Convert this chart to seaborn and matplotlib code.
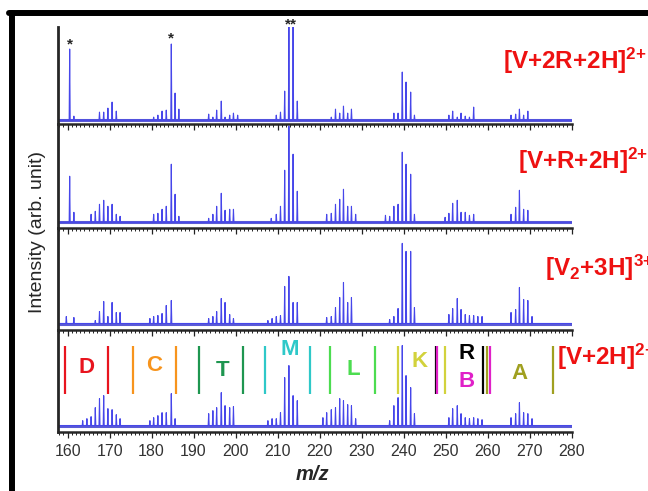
import numpy as np
import pandas as pd
import matplotlib
matplotlib.use('Agg')
import matplotlib.pyplot as plt
import seaborn as sns
from matplotlib.ticker import MultipleLocator
from matplotlib.lines import Line2D

# peak lists (m/z, height above baseline)
p1_mz = [160.5, 161.5, 167.6, 168.6, 169.6, 170.6, 171.6, 180.5, 181.5, 182.5, 183.5, 184.7, 185.6, 186.5,
         193.6, 194.6, 195.5, 196.6, 197.5, 198.6, 199.5, 200.5, 209.7, 210.7, 211.7, 212.7, 213.7, 214.7,
         222.8, 223.8, 224.8, 225.7, 226.7, 227.6, 237.7, 238.7, 239.7, 240.6, 241.7, 242.6,
         250.8, 251.7, 252.8, 253.7, 254.7, 255.7, 256.7, 265.6, 266.7, 267.6, 268.6, 269.6]
p1_h = [71, 4, 8, 8, 12, 18, 9, 3, 5, 9, 10, 76, 27, 11,
        6, 3, 10, 19, 3, 5, 7, 5, 5, 8, 29, 95, 95, 19,
        3, 11, 7, 14, 7, 11, 7, 7, 48, 38, 28, 5,
        5, 9, 3, 7, 4, 3, 13, 5, 6, 11, 5, 9]

p2_mz = [160.5, 161.5, 165.6, 166.6, 167.6, 168.6, 169.6, 170.6, 171.6, 172.5, 180.5, 181.5, 182.5, 183.5,
         184.7, 185.6, 186.5, 193.6, 194.6, 195.5, 196.6, 197.5, 198.6, 199.5, 208.5, 209.7, 210.7, 211.7,
         212.7, 213.7, 214.7, 221.7, 222.8, 223.8, 224.8, 225.7, 226.7, 227.6, 228.6, 235.7, 236.7, 237.7,
         238.7, 239.7, 240.6, 241.7, 242.6, 249.9, 250.8, 251.7, 252.8, 253.7, 254.7, 255.7, 256.7,
         265.6, 266.7, 267.6, 268.6, 269.6]
p2_h = [46, 10, 8, 11, 18, 22, 16, 18, 8, 6, 8, 9, 13, 16,
        58, 28, 6, 4, 8, 16, 29, 12, 13, 13, 4, 8, 16, 52,
        96, 68, 31, 8, 9, 18, 23, 33, 16, 16, 8, 7, 6, 16,
        18, 70, 58, 48, 8, 5, 9, 19, 22, 10, 10, 7, 8,
        8, 15, 32, 13, 12]

p3_mz = [159.7, 161.5, 166.6, 167.6, 168.6, 169.6, 170.6, 171.6, 172.5, 179.6, 180.5, 181.5, 182.5, 183.5,
         184.7, 193.6, 194.6, 195.5, 196.6, 197.5, 198.6, 199.5, 207.7, 208.7, 209.7, 210.7, 211.7, 212.7,
         213.7, 214.7, 221.7, 222.8, 223.8, 224.8, 225.7, 226.7, 227.6, 236.7, 237.7, 238.7, 239.7, 240.6,
         241.7, 242.6, 250.8, 251.7, 252.8, 253.7, 254.7, 255.7, 256.7, 257.7, 258.7,
         265.6, 266.7, 267.6, 268.6, 269.6, 270.6]
p3_h = [7, 6, 3, 12, 22, 7, 21, 11, 11, 5, 7, 8, 10, 18,
        23, 5, 7, 12, 25, 21, 9, 5, 3, 5, 7, 8, 37, 47,
        21, 21, 6, 7, 16, 26, 41, 21, 26, 4, 7, 15, 80, 72,
        72, 16, 9, 15, 25, 14, 9, 8, 8, 7, 7,
        11, 14, 36, 24, 23, 7]

p4_mz = [163.6, 164.6, 165.6, 166.6, 167.6, 168.6, 169.6, 170.6, 171.6, 172.5, 179.6, 180.5, 181.5, 182.5,
         183.5, 184.7, 185.6, 193.6, 194.6, 195.5, 196.6, 197.5, 198.6, 199.5, 207.7, 208.7, 209.7, 210.7,
         211.7, 212.7, 213.7, 214.7, 220.8, 221.7, 222.8, 223.8, 224.8, 225.7, 226.7, 227.6, 228.6,
         236.7, 237.7, 238.7, 239.7, 240.6, 241.7, 242.6, 250.8, 251.7, 252.8, 253.7, 254.7, 255.7,
         256.7, 257.7, 258.7, 265.6, 266.7, 267.6, 268.6, 269.6, 270.6]
p4_h = [5, 7, 9, 18, 27, 30, 17, 16, 11, 7, 5, 8, 10, 13,
        13, 32, 7, 12, 15, 18, 33, 20, 18, 19, 5, 7, 7, 13,
        48, 60, 30, 25, 8, 13, 16, 18, 27, 25, 21, 20, 7,
        5, 20, 28, 80, 50, 38, 12, 8, 17, 20, 12, 8, 7,
        8, 7, 6, 8, 12, 23, 13, 12, 7]

panel_names = [r'$\mathrm{[V{+}2R{+}2H]^{2{+}}}$', r'$\mathrm{[V{+}R{+}2H]^{2{+}}}$',
               r'$\mathrm{[V_2{+}3H]^{3{+}}}$', r'$\mathrm{[V{+}2H]^{2{+}}}$']
baselines = [4, 6, 6, 6]
ytops = [97, 104, 101, 102]

# residue ranges in the bottom panel
res_names = ['D', 'C', 'T', 'M', 'L', 'K', 'R', 'B', 'A']
res_left = [159.5, 175.6, 191.4, 206.9, 222.6, 238.6, 247.75, 248.05, 259.9]
res_right = [169.6, 185.8, 201.7, 217.8, 233.3, 249.8, 258.9, 260.6, 275.5]
res_colors = ['#e8141e', '#f7941d', '#1e9650', '#2ec8c8', '#4cdc50', '#d2d23c', '#000000', '#e020c8', '#a0a020']
res_label_x = [164.4, 180.7, 196.8, 212.9, 228.0, 243.8, 255.0, 255.0, 267.6]
res_label_y = [64, 66, 61, 82, 62, 70, 78, 50, 58]

star_mz = [160.5, 184.7, 213.2]
star_txt = ['*', '*', '**']
star_y = [80, 86, 100]

sns.set_style('ticks')
plt.rcParams['font.family'] = ['Liberation Sans', 'DejaVu Sans']
plt.rcParams['mathtext.fontset'] = 'custom'
plt.rcParams['mathtext.rm'] = 'Liberation Sans:bold'


def spectrum(mz, h, base):
    # each peak as a narrow stick on the baseline
    xs = [157.6]
    ys = [base]
    for m, v in zip(mz, h):
        xs += [m - 0.12, m, m + 0.12]
        ys += [base, base + v, base]
    xs.append(280)
    ys.append(base)
    return pd.DataFrame({'mz': xs, 'intensity': ys})


fig = plt.figure(figsize=(6.48, 4.91), dpi=100)
gs = fig.add_gridspec(4, 1, height_ratios=ytops, hspace=0,
                      left=57.5 / 648, right=571.5 / 648, top=1 - 27 / 491, bottom=1 - 431.7 / 491)

peaks = [(p1_mz, p1_h), (p2_mz, p2_h), (p3_mz, p3_h), (p4_mz, p4_h)]
axs = []
for i, (mz, h) in enumerate(peaks):
    ax = fig.add_subplot(gs[i])
    ax.set_facecolor('none')
    df = spectrum(mz, h, baselines[i])
    ax.axhline(baselines[i], color='#2424c8', lw=2.2, alpha=0.75, zorder=1)
    sns.lineplot(data=df, x='mz', y='intensity', ax=ax, color='#4646ea', lw=0.8,
                 estimator=None, sort=False, zorder=2)
    ax.set_xlim(157.6, 280)
    ax.set_ylim(0, ytops[i])
    ax.set_xlabel('')
    ax.set_ylabel('')
    ax.set_yticks([])
    ax.xaxis.set_major_locator(MultipleLocator(10))
    ax.xaxis.set_minor_locator(MultipleLocator(1))
    ax.tick_params(axis='x', which='major', direction='out', length=4.5, width=0.9, color='#222222',
                   labelsize=11.5, labelcolor='#333333', pad=4)
    ax.tick_params(axis='x', which='minor', direction='out', length=2.3, width=0.7, color='#222222')
    if i < 3:
        ax.tick_params(axis='x', labelbottom=False)
    for s in ['top', 'right']:
        ax.spines[s].set_visible(False)
    ax.spines['left'].set_linewidth(2.0)
    ax.spines['bottom'].set_linewidth(1.8)
    axs.append(ax)

# stars on the top panel
for m, t, y in zip(star_mz, star_txt, star_y):
    axs[0].text(m, y, t, ha='center', va='center', fontsize=11, fontweight='bold', clip_on=False)

# residue ranges in the bottom panel
ax4 = axs[3]
for n, l, r, c, lx, ly in zip(res_names, res_left, res_right, res_colors, res_label_x, res_label_y):
    ax4.vlines([l, r], 38, 86, color=c, lw=1.6, zorder=3)
    ax4.text(lx, ly, n, color=c, ha='center', va='center', fontsize=16, fontweight='bold')

# panel labels
label_pos = [(503, 61), (518, 161), (545, 268), (557, 357)]
for (px, py), name in zip(label_pos, panel_names):
    fig.text(px / 648, 1 - py / 491, name, color='#ee1111', fontsize=17.5, ha='left', va='center')

fig.text(38 / 648, 1 - 232 / 491, 'Intensity (arb. unit)', rotation=90, ha='center', va='center', fontsize=14)
fig.text(312 / 648, 1 - 475 / 491, 'm/z', ha='center', va='center', fontsize=14.5,
         fontweight='bold', fontstyle='italic')

# thick frame on the top and left edges
fig.add_artist(Line2D([12 / 648, 12 / 648], [0, 1 - 13 / 491], transform=fig.transFigure, color='k', lw=4.3))
fig.add_artist(Line2D([9 / 648, 1], [1 - 13 / 491, 1 - 13 / 491], transform=fig.transFigure, color='k', lw=4.3))

fig.savefig('out.png', dpi=100)
